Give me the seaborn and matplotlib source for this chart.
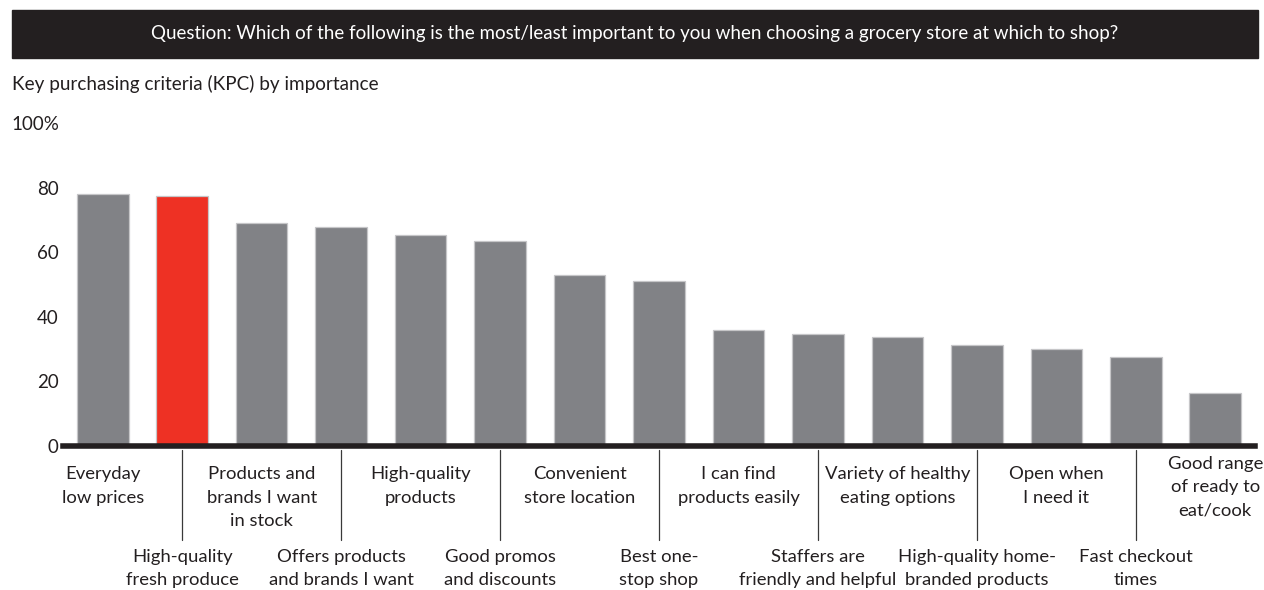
import matplotlib.pyplot as plt
import matplotlib.transforms as mtransforms
import seaborn as sns
import pandas as pd

# data
criteria = [
    "Everyday\nlow prices",
    "High-quality\nfresh produce",
    "Products and\nbrands I want\nin stock",
    "Offers products\nand brands I want",
    "High-quality\nproducts",
    "Good promos\nand discounts",
    "Convenient\nstore location",
    "Best one-\nstop shop",
    "I can find\nproducts easily",
    "Staffers are\nfriendly and helpful",
    "Variety of healthy\neating options",
    "High-quality home-\nbranded products",
    "Open when\nI need it",
    "Fast checkout\ntimes",
    "Good range\nof ready to\neat/cook",
]
importance = [78.0, 77.4, 69.0, 67.7, 65.4, 63.6, 53.0, 51.0, 36.0, 34.8, 33.7, 31.2, 30.0, 27.6, 16.4]
highlight = "High-quality\nfresh produce"
y_ticks = [0, 20, 40, 60, 80, 100]
y_tick_labels = ["0", "20", "40", "60", "80", "100%"]

title = "Question: Which of the following is the most/least important to you when choosing a grocery store at which to shop?"
subtitle = "Key purchasing criteria (KPC) by importance"

GREY = "#818286"
RED = "#ee3124"
DARK = "#231f20"

sns.set_style("white")
plt.rcParams['font.family'] = ['Lato', 'DejaVu Sans']

df = pd.DataFrame({'criteria': criteria, 'value': importance})
palette = {c: (RED if c == highlight else GREY) for c in criteria}

fig = plt.figure(figsize=(12.64, 5.90), dpi=100)
ax = fig.add_axes([63 / 1264, 1 - 446 / 590, (1255 - 63) / 1264, (446 - 123) / 590])

sns.barplot(data=df, x='criteria', y='value', hue='criteria', palette=palette,
            legend=False, width=0.65, edgecolor='#c6c6c8', linewidth=0.9,
            saturation=1, ax=ax)

ax.set_xlim(-0.5, len(criteria) - 0.5)
ax.set_ylim(0, 100)
ax.set_yticks(y_ticks)
ax.set_yticklabels(y_tick_labels)
ax.tick_params(axis='y', length=0, pad=3, labelsize=13.5, labelcolor=DARK)
ax.set_xticks([])
ax.set_xlabel('')
ax.set_ylabel('')
for s in ['top', 'right', 'left']:
    ax.spines[s].set_visible(False)
ax.spines['bottom'].set_linewidth(4)
ax.spines['bottom'].set_color(DARK)

# category labels in two staggered rows with separators
trans = mtransforms.blended_transform_factory(ax.transData, ax.transAxes)
for i, label in enumerate(criteria):
    if i % 2 == 0:
        top = -0.031 if i == len(criteria) - 1 else -0.063
        ax.text(i, top, label, transform=trans, ha='center', va='top',
                fontsize=13.3, color=DARK, linespacing=1.56)
    else:
        ax.plot([i, i], [-0.012, -0.29], transform=trans, color='#3a3a3a',
                lw=0.9, clip_on=False)
        ax.text(i, -0.319, label, transform=trans, ha='center', va='top',
                fontsize=13.3, color=DARK, linespacing=1.56)

# title bar
fig.patches.append(plt.Rectangle((12 / 1264, 1 - 58 / 590), 1246 / 1264, 48 / 590,
                                 transform=fig.transFigure, color=DARK, zorder=0))
fig.text(635 / 1264, 1 - 34 / 590, title, ha='center', va='center',
         color='white', fontsize=13.5)
fig.text(12 / 1264, 1 - 84 / 590, subtitle, ha='left', va='center',
         color=DARK, fontsize=13.6)

fig.savefig('out.png', dpi=100)
